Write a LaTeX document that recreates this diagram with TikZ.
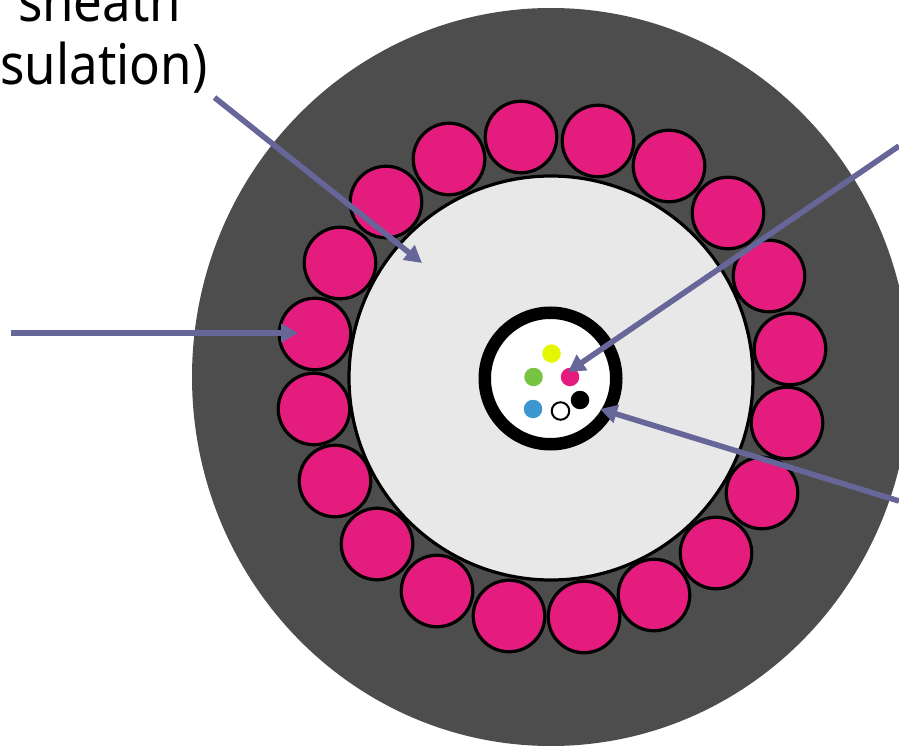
\documentclass[tikz,border=0pt]{standalone}
\usepackage{fontspec}
\setmainfont{Noto Sans}
\newfontfamily\labelfont[FakeStretch=0.91]{Noto Sans}
\usetikzlibrary{arrows.meta,shapes.geometric}
\definecolor{sheathgrey}{HTML}{4D4D4D}
\definecolor{corelight}{HTML}{E8E8E8}
\definecolor{strandpink}{HTML}{E31C7E}
\definecolor{arrowblue}{HTML}{666699}
\definecolor{fibreyellow}{HTML}{E3F700}
\definecolor{fibregreen}{HTML}{76C442}
\definecolor{fibreblue}{HTML}{3C96D0}
\tikzset{
  every node/.style={inner sep=0pt,outer sep=0pt},
  strand/.style={circle,draw=black,line width=3.2pt,fill=strandpink,minimum size=71.5pt},
  fibre/.style={circle,minimum size=18.5pt},
  pointer/.style={draw=arrowblue,line width=5.6pt,-{Triangle[length=17pt,width=18pt]}},
  label/.style={anchor=base west,font=\labelfont\fontsize{56}{56}\selectfont,text=black}
}
\begin{document}
\begin{tikzpicture}[x=1pt,y=-1pt]
\useasboundingbox (0,0) rectangle (899,746);
\clip (0,0) rectangle (899,746);
\node[ellipse,fill=sheathgrey,minimum width=718pt,minimum height=738pt] (sheath) at (551,377) {};
\foreach \n/\x/\y in {1/449/159,2/521/137,3/598/141,4/669/166,5/728/213,6/769/276,7/790/349,8/787/423,9/762/493,10/716/553,11/654/595,12/584/617,13/509/616,14/437/591,15/377/544,16/335/481,17/314/409,18/315/334,19/340/263,20/386/202}
  \node[strand] (s\n) at (\x,\y) {};
\node[circle,draw=black,line width=3.2pt,fill=corelight,minimum size=404pt] (core) at (551,378) {};
\node[circle,draw=black,line width=12.5pt,fill=white,minimum size=131.5pt] (tube) at (550.5,378.5) {};
\node[fibre,fill=fibreyellow] (fy) at (551.5,353.5) {};
\node[fibre,fill=fibregreen] (fg) at (533.5,377) {};
\node[fibre,fill=strandpink] (fm) at (570,377) {};
\node[fibre,fill=fibreblue] (fb) at (533,409) {};
\node[fibre,fill=black] (fk) at (580,400) {};
\node[circle,draw=black,line width=2pt,fill=white,minimum size=17.5pt] (fw) at (560.5,411) {};
\node[label] (l1) at (18,21.5) {sheath};
\node[label] (l2) at (0.5,85) {sulation)};
\coordinate (a1s) at (214.5,97.5);
\coordinate (a1e) at (422,263);
\coordinate (a2s) at (11,333);
\coordinate (a2e) at (298,333);
\coordinate (a3s) at (899,146);
\coordinate (a3e) at (568,372);
\coordinate (a4s) at (899,501);
\coordinate (a4e) at (600,409);
\draw[pointer] (a1s) -- (a1e);
\draw[pointer] (a2s) -- (a2e);
\draw[pointer] (a3s) -- (a3e);
\draw[pointer] (a4s) -- (a4e);
\end{tikzpicture}
\end{document}
